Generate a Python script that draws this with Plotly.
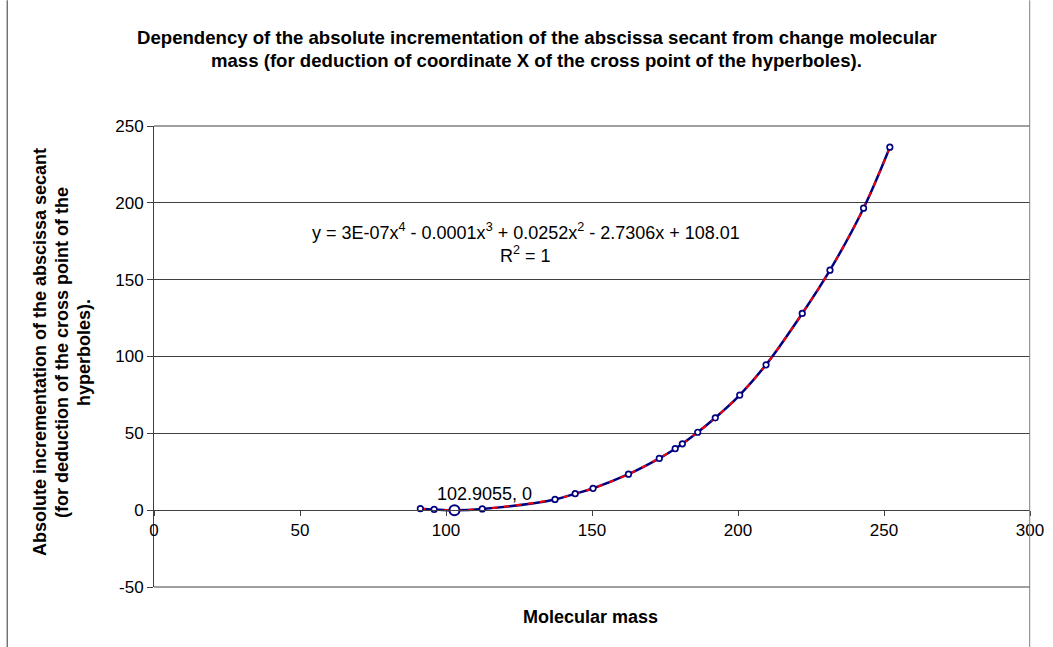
import plotly.graph_objects as go

# Data
mass = [91.22, 95.94, 102.9055, 112.41, 137.33, 144.24, 150.36, 162.5, 173.04,
        178.49, 180.95, 186.21, 192.22, 200.59, 209.6, 222.0, 231.5, 243.0, 252.0]
secant = [1.0, 0.5, 0.0, 0.8, 7.0, 10.7, 14.2, 23.4, 33.7,
          40.0, 43.2, 50.7, 60.1, 74.9, 94.6, 128.0, 156.2, 196.5, 236.2]
cross_x = [102.9055]
cross_y = [0]
x_ticks = [0, 50, 100, 150, 200, 250, 300]
y_ticks = [-50, 0, 50, 100, 150, 200, 250]
y_tick_text = ["-50", "0", "50", "100", "150", "200", "250"]

FONT = "Liberation Sans, Arial, sans-serif"
NAVY = "#000080"
FS = 18
FT = 17

fig = go.Figure()
fig.add_trace(go.Scatter(x=mass, y=secant, mode="lines",
                         line=dict(color=NAVY, width=2.5, shape="spline", smoothing=1),
                         hoverinfo="skip", showlegend=False))
fig.add_trace(go.Scatter(x=mass, y=secant, mode="lines",
                         line=dict(color="#ff0000", width=2, dash="5px,7px",
                                   shape="spline", smoothing=1),
                         showlegend=False))
fig.add_trace(go.Scatter(x=mass, y=secant, mode="markers",
                         marker=dict(symbol="circle", size=5.5, color="white",
                                     line=dict(color=NAVY, width=1.7)),
                         showlegend=False))
fig.add_trace(go.Scatter(x=cross_x, y=cross_y, mode="markers",
                         marker=dict(symbol="circle", size=10, color="white",
                                     line=dict(color=NAVY, width=2)),
                         showlegend=False))

GRID = "#404040"
zero_pos = 77.2 / 461.0

fig.update_layout(
    width=1053, height=647,
    margin=dict(l=154, r=23, t=126, b=60),
    paper_bgcolor="white", plot_bgcolor="white",
    font=dict(family=FONT, size=FS, color="black"),
    xaxis=dict(range=[0, 300], tickvals=x_ticks, ticks="outside", ticklen=5,
               tickcolor=GRID, showline=True, linecolor=GRID, linewidth=1,
               showgrid=False, zeroline=False, anchor="free", position=zero_pos,
               automargin=False, tickfont=dict(size=FT, family=FONT)),
    yaxis=dict(range=[-50, 250], tickvals=y_ticks, ticktext=y_tick_text,
               ticks="outside", ticklen=6,
               tickcolor=GRID, showline=True, linecolor=GRID, linewidth=1,
               showgrid=True, gridcolor=GRID, gridwidth=1, zeroline=False,
               automargin=False, tickfont=dict(size=FT, family=FONT)),
)

def px_x(p):
    return (p - 154.3) / 876.0

def px_y(p):
    return (586.7 - p) / 461.0

ann = []
# Title
ann.append(dict(text="<b>Dependency of the absolute incrementation of the abscissa secant from change molecular</b>",
                x=px_x(537), y=px_y(37), fs=18.6))
ann.append(dict(text="<b>mass (for deduction of coordinate X of the cross point of the hyperboles).</b>",
                x=px_x(537), y=px_y(60), fs=18.6))
# Y axis title lines
for txt, xp in [("Absolute incrementation of the abscissa secant", 41),
                ("(for deduction of the cross point of the", 63),
                ("hyperboles).", 85)]:
    ann.append(dict(text="<b>" + txt + "</b>", x=px_x(xp), y=px_y(352), textangle=-90, fs=FS))
# X axis title
ann.append(dict(text="<b>Molecular mass</b>", x=px_x(591), y=px_y(617), fs=FS))
# Equation
ann.append(dict(text="y = 3E-07x<sup>4</sup> - 0.0001x<sup>3</sup> + 0.0252x<sup>2</sup> - 2.7306x + 108.01",
                x=px_x(526), y=px_y(231), fs=FS))
ann.append(dict(text="R<sup>2</sup> = 1", x=px_x(526), y=px_y(254), fs=FS))

for a in ann:
    fs = a.pop("fs")
    a.update(xref="paper", yref="paper", showarrow=False, xanchor="center", yanchor="middle",
             font=dict(size=fs, family=FONT, color="black"))
    fig.add_annotation(**a)

# data label for the cross point
fig.add_annotation(x=cross_x[0], y=cross_y[0], text="102.9055, 0", showarrow=False,
                   xshift=30, yshift=16, font=dict(size=FS, family=FONT, color="black"))

# plot-area top and bottom edges (grid at 250 and -50)
for yy in (0, 1):
    fig.add_shape(type="line", xref="paper", yref="paper", x0=0, x1=1, y0=yy, y1=yy,
                  line=dict(color=GRID, width=1), layer="below")

# chart-area frame edges
fig.add_shape(type="line", xref="paper", yref="paper", x0=px_x(7.5), x1=px_x(7.5),
              y0=px_y(0), y1=px_y(647), line=dict(color="#333333", width=1))
fig.add_shape(type="line", xref="paper", yref="paper", x0=px_x(1030), x1=px_x(1030),
              y0=px_y(0), y1=px_y(647), line=dict(color="#808080", width=1))

fig.write_html("out.html", config={"displayModeBar": False},
               post_script="document.body.style.margin='0px';")
